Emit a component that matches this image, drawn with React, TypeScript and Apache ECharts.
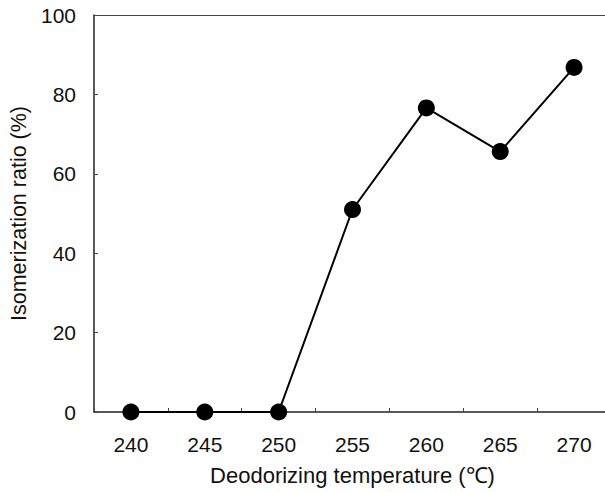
import React, { useEffect, useRef } from "react";
import * as echarts from "echarts";

const categories = ["240", "245", "250", "255", "260", "265", "270"];
const isomerization = [0, 0, 0, 51, 76.6, 65.6, 86.8];
const yTicks = { min: 0, max: 100, interval: 20 };

export default function App() {
  const ref = useRef<HTMLDivElement>(null);
  useEffect(() => {
    if (!ref.current) return;
    const chart = echarts.init(ref.current, undefined, { renderer: "svg" });
    const font = "Liberation Sans, Arial, Helvetica, sans-serif";
    chart.setOption({
      animation: false,
      backgroundColor: "#ffffff",
      grid: { left: 93, top: 15, width: 518, height: 397, containLabel: false },
      xAxis: [
        {
          type: "category",
          data: categories,
          boundaryGap: true,
          name: "Deodorizing temperature (℃)",
          nameLocation: "middle",
          nameGap: 52,
          nameTextStyle: { fontFamily: font, fontSize: 22, color: "#111" },
          axisLine: { show: true, lineStyle: { color: "#222", width: 1.5 } },
          axisTick: { show: true, inside: true, length: 4, lineStyle: { color: "#444" } },
          axisLabel: { fontFamily: font, fontSize: 21, color: "#111", margin: 22 },
          splitLine: { show: false },
        },
        {
          type: "category",
          data: categories,
          position: "top",
          axisLine: { show: true, lineStyle: { color: "#444", width: 1.2 } },
          axisTick: { show: false },
          axisLabel: { show: false },
          splitLine: { show: false },
        },
      ],
      yAxis: {
        type: "value",
        min: yTicks.min,
        max: yTicks.max,
        interval: yTicks.interval,
        name: "Isomerization ratio (%)",
        nameLocation: "middle",
        nameGap: 64,
        nameRotate: 90,
        nameTextStyle: { fontFamily: font, fontSize: 21.5, color: "#111" },
        axisLine: { show: true, lineStyle: { color: "#222", width: 1.5 } },
        axisTick: { show: true, inside: true, length: 4, lineStyle: { color: "#444" } },
        axisLabel: { fontFamily: font, fontSize: 21, color: "#111", margin: 18 },
        splitLine: { show: false },
      },
      series: [
        {
          type: "line",
          data: isomerization,
          symbol: "circle",
          symbolSize: 17,
          lineStyle: { color: "#000", width: 2 },
          itemStyle: { color: "#000" },
        },
      ],
    });
    return () => chart.dispose();
  }, []);
  return (
    <div style={{ position: "absolute", left: 0, top: 0, width: 605, height: 492, overflow: "hidden", background: "#fff" }}>
      <div ref={ref} style={{ width: 625, height: 492 }} />
    </div>
  );
}
